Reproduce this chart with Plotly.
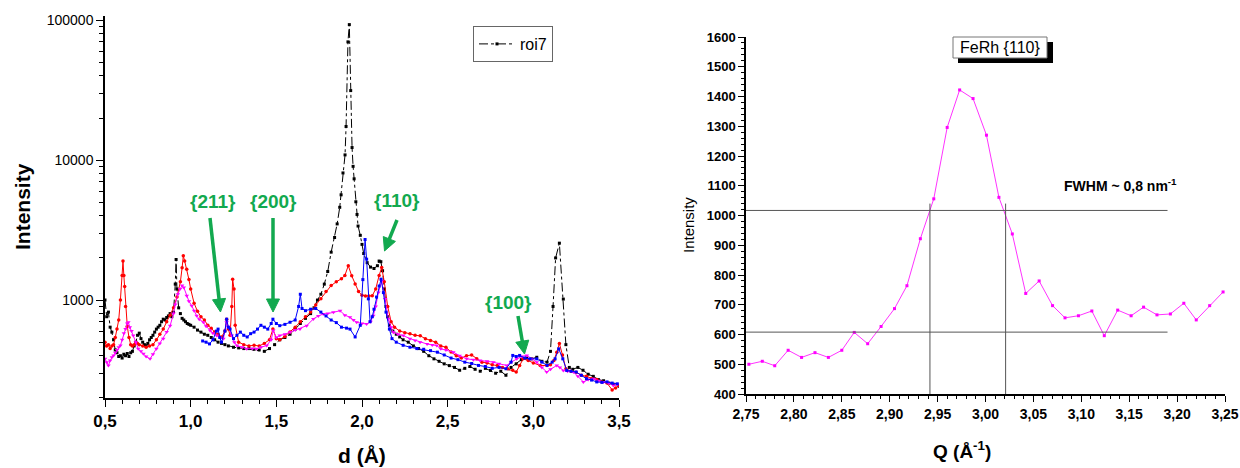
import math
import plotly.graph_objects as go

# ---------------- Left panel data (d in Å, intensity) ----------------
black_d = [0.50,0.51,0.52,0.53,0.54,0.55,0.56,0.57,0.58,0.59,0.60,0.61,0.62,0.63,0.64,0.65,0.66,0.67,0.68,0.69,
           0.70,0.71,0.72,0.73,0.74,0.75,0.76,0.77,0.78,0.79,0.80,0.81,0.82,0.83,0.84,0.85,0.86,0.87,0.88,0.89,
           0.90,0.91,0.915,0.92,0.93,0.94,0.95,0.96,0.97,0.98,0.99,1.00,1.02,1.04,1.06,1.08,1.10,1.12,1.14,1.16,
           1.18,1.20,1.22,1.25,1.28,1.31,1.34,1.37,1.40,1.43,1.46,1.49,1.52,1.55,1.58,1.61,1.64,1.67,1.70,1.72,
           1.74,1.76,1.78,1.80,1.82,1.84,1.855,1.87,1.878,1.889,1.901,1.907,1.918,1.926,1.934,1.942,1.948,1.954,
           1.964,1.971,1.977,1.99,2.00,2.01,2.03,2.05,2.07,2.09,2.10,2.11,2.12,2.13,2.14,2.15,2.16,2.18,2.20,2.22,
           2.24,2.27,2.30,2.33,2.36,2.39,2.42,2.45,2.48,2.51,2.54,2.57,2.60,2.63,2.66,2.69,2.72,2.75,2.78,2.81,
           2.84,2.87,2.90,2.93,2.96,2.99,3.02,3.05,3.08,3.10,3.115,3.13,3.152,3.175,3.19,3.21,3.23,3.26,3.29,3.32,
           3.35,3.38,3.41,3.44,3.47,3.50]
black_i = [1000,760,820,640,590,520,440,420,395,400,385,410,400,415,395,420,430,470,500,560,
           580,530,500,480,470,490,520,540,560,590,620,640,660,700,730,720,750,770,800,760,
           820,1300,1950,1200,880,800,740,720,700,680,670,660,640,610,590,570,560,540,520,500,
           490,480,470,460,455,450,450,445,440,430,450,480,520,540,570,620,680,740,800,880,
           1000,1100,1300,1600,2200,2800,3500,4600,5650,8100,10900,17400,70000,93000,31400,12300,9030,7350,
           5040,4090,3380,2900,2500,2150,1850,1720,1680,1760,1900,1880,1620,1200,900,760,660,600,570,545,
           520,500,470,450,430,400,380,365,350,340,330,315,325,335,320,310,325,314,300,310,
           290,330,350,375,385,380,390,365,360,430,900,2000,2550,1016,480,330,320,330,315,295,
           285,270,265,255,250,242]

red_d = [0.50,0.51,0.52,0.53,0.54,0.55,0.56,0.57,0.58,0.59,0.60,0.605,0.61,0.615,0.62,0.63,0.64,0.65,0.66,0.67,
         0.68,0.69,0.70,0.72,0.74,0.76,0.78,0.80,0.82,0.84,0.86,0.88,0.90,0.92,0.94,0.95,0.957,0.965,0.977,0.99,
         1.00,1.02,1.04,1.06,1.08,1.10,1.12,1.14,1.16,1.18,1.20,1.21,1.22,1.23,1.24,1.245,1.253,1.26,1.28,1.31,
         1.34,1.37,1.40,1.43,1.46,1.48,1.50,1.52,1.55,1.58,1.61,1.64,1.67,1.70,1.73,1.76,1.79,1.82,1.85,1.88,
         1.90,1.92,1.94,1.96,1.98,2.00,2.02,2.04,2.06,2.08,2.10,2.115,2.13,2.15,2.17,2.19,2.22,2.25,2.28,2.31,
         2.34,2.37,2.40,2.43,2.46,2.49,2.52,2.55,2.58,2.61,2.64,2.67,2.70,2.73,2.76,2.79,2.82,2.85,2.88,2.90,
         2.92,2.94,2.97,3.00,3.04,3.08,3.10,3.12,3.137,3.152,3.17,3.19,3.22,3.25,3.28,3.31,3.34,3.37,3.40,3.43,
         3.46,3.48,3.50]
red_i = [500,470,480,450,470,480,540,620,720,1000,1500,1900,1500,1250,900,650,540,480,470,480,
         500,490,480,470,460,470,480,520,570,620,700,780,880,1050,1350,1700,2070,1900,1660,1400,
         1200,950,830,760,720,660,630,590,570,545,600,730,620,560,900,1410,1200,660,500,480,
         470,475,470,490,520,620,530,520,550,590,640,700,760,820,920,1020,1150,1270,1350,1420,
         1500,1760,1490,1300,1150,1080,1070,1070,1075,1200,1500,1710,1350,900,700,640,600,585,575,560,
         555,530,515,500,470,460,425,400,385,400,405,380,360,355,345,340,330,323,315,306,
         340,380,370,355,341,340,345,370,424,490,405,323,310,305,290,285,275,270,260,255,
         228,235,245]

blue_d = [1.07,1.09,1.11,1.13,1.15,1.16,1.17,1.18,1.20,1.21,1.22,1.23,1.25,1.27,1.29,1.31,1.33,1.35,1.37,1.39,
          1.41,1.43,1.45,1.47,1.48,1.50,1.52,1.55,1.58,1.61,1.63,1.64,1.65,1.67,1.70,1.73,1.76,1.79,1.82,1.85,
          1.88,1.91,1.93,1.96,1.99,2.005,2.018,2.027,2.037,2.047,2.06,2.07,2.085,2.10,2.111,2.125,2.14,2.16,2.175,2.20,
          2.24,2.28,2.32,2.36,2.40,2.44,2.48,2.52,2.56,2.60,2.64,2.68,2.72,2.76,2.80,2.84,2.87,2.88,2.90,2.92,
          2.95,2.98,3.02,3.05,3.08,3.11,3.127,3.148,3.172,3.195,3.22,3.25,3.28,3.31,3.34,3.37,3.40,3.43,3.46,3.49]
blue_i = [510,500,486,520,600,620,540,500,600,730,640,620,530,560,590,560,545,575,590,620,
          660,640,620,680,730,680,656,670,694,720,900,1100,870,840,860,870,820,770,720,690,
          640,630,620,545,660,1400,2710,1960,1020,700,760,860,1050,1260,1410,1130,820,620,530,500,
          475,460,450,445,435,424,405,385,375,360,352,341,335,325,330,323,360,402,395,402,
          385,380,380,360,341,360,380,448,380,314,310,306,290,274,268,260,258,260,255,252]

magenta_d = [0.50,0.51,0.52,0.53,0.54,0.55,0.56,0.57,0.58,0.59,0.60,0.61,0.62,0.63,0.636,0.645,0.655,0.665,0.68,0.694,
             0.71,0.724,0.74,0.763,0.78,0.80,0.82,0.84,0.86,0.88,0.90,0.91,0.925,0.938,0.95,0.96,0.977,0.99,1.006,1.02,
             1.035,1.05,1.074,1.09,1.113,1.13,1.152,1.17,1.191,1.21,1.22,1.24,1.255,1.27,1.30,1.327,1.36,1.385,1.41,1.444,
             1.47,1.482,1.50,1.52,1.55,1.58,1.61,1.638,1.677,1.716,1.745,1.774,1.80,1.833,1.872,1.90,1.93,1.95,1.969,2.00,
             2.027,2.05,2.066,2.08,2.096,2.115,2.135,2.154,2.17,2.183,2.21,2.241,2.28,2.31,2.339,2.38,2.41,2.436,2.46,2.49,
             2.533,2.57,2.611,2.65,2.689,2.73,2.767,2.80,2.845,2.87,2.903,2.93,2.962,2.99,3.02,3.05,3.078,3.10,3.137,3.155,
             3.175,3.20,3.234,3.26,3.292,3.32,3.35,3.38,3.409,3.44,3.467,3.49]
magenta_i = [380,360,340,370,390,402,420,440,460,473,520,580,622,680,694,640,600,557,500,448,
             430,413,395,380,410,448,490,528,590,656,800,930,1100,1198,1270,1230,1073,980,911,840,
             773,730,694,650,605,580,557,540,528,694,640,557,500,473,460,448,450,448,460,473,
             520,605,540,557,570,589,610,622,656,732,770,795,800,817,839,780,753,720,694,680,
             675,700,773,900,1134,1373,1016,732,640,589,570,557,530,515,500,485,478,473,448,440,
             424,400,380,375,370,365,360,350,341,360,380,395,402,380,360,330,306,320,341,330,
             314,310,306,285,260,270,274,265,260,255,245,250]

# ---------------- Right panel data (Q in 1/Å, intensity) ----------------
q_vals = [2.753,2.767,2.780,2.794,2.808,2.822,2.836,2.850,2.863,2.877,2.891,2.905,2.918,2.932,2.946,2.960,2.973,
          2.987,3.001,3.014,3.028,3.042,3.056,3.070,3.083,3.097,3.111,3.124,3.138,3.152,3.165,3.179,3.193,3.207,
          3.220,3.234,3.248]
q_int = [500,510,495,547,523,539,523,547,607,569,627,687,764,922,1056,1296,1422,
         1393,1270,1061,938,738,780,697,656,663,679,596,682,663,692,666,669,705,
         649,697,743]

# FWHM guide lines
half_level = 1017
base_level = 608
hline_x = [2.75, 3.19]
fwhm_q = [2.942, 3.021]
vline_y = [400, 1040]

# ticks
left_x_ticks = [0.5, 1.0, 1.5, 2.0, 2.5, 3.0, 3.5]
left_y_ticks = [1000, 10000, 100000]
left_y_ticklabels = ["1000", "10000", "100000"]
left_y_minor = [200,300,400,500,600,700,800,900,2000,3000,4000,5000,6000,7000,8000,9000,
                20000,30000,40000,50000,60000,70000,80000,90000]
right_y_ticks = [400,500,600,700,800,900,1000,1100,1200,1300,1400,1500,1600]

W, H = 1240, 468
def px(x):
    return x / W
def py(y):
    return 1 - y / H

FONT = "Liberation Sans, Arial, sans-serif"
GREEN = "#12a94f"

fig = go.Figure()

fig.add_trace(go.Scatter(x=black_d, y=black_i, name="roi7", mode="lines+markers",
                         line=dict(color="black", width=1, dash="dashdot"),
                         marker=dict(symbol="square", size=3, color="black"),
                         xaxis="x", yaxis="y", showlegend=True))
fig.add_trace(go.Scatter(x=red_d, y=red_i, mode="lines+markers",
                         line=dict(color="#ff0000", width=1),
                         marker=dict(symbol="circle", size=3.5, color="#ff0000"),
                         xaxis="x", yaxis="y", showlegend=False))
fig.add_trace(go.Scatter(x=magenta_d, y=magenta_i, mode="lines+markers",
                         line=dict(color="#ff00ff", width=1),
                         marker=dict(symbol="triangle-down", size=4, color="#ff00ff"),
                         xaxis="x", yaxis="y", showlegend=False))
fig.add_trace(go.Scatter(x=blue_d, y=blue_i, mode="lines+markers",
                         line=dict(color="#0000ff", width=1),
                         marker=dict(symbol="square", size=3, color="#0000ff"),
                         xaxis="x", yaxis="y", showlegend=False))

fig.add_trace(go.Scatter(x=q_vals, y=q_int, mode="lines+markers",
                         line=dict(color="#ff33ff", width=1),
                         marker=dict(symbol="square", size=3, color="#ff00ff"),
                         xaxis="x2", yaxis="y2", showlegend=False))

# guide lines (right panel)
for lvl in (half_level, base_level):
    fig.add_trace(go.Scatter(x=hline_x, y=[lvl, lvl], mode="lines",
                             line=dict(color="#555555", width=1),
                             xaxis="x2", yaxis="y2", showlegend=False, hoverinfo="skip"))
for q in fwhm_q:
    fig.add_trace(go.Scatter(x=[q, q], y=vline_y, mode="lines",
                             line=dict(color="#555555", width=1),
                             xaxis="x2", yaxis="y2", showlegend=False, hoverinfo="skip"))

axis_common = dict(showline=True, linecolor="black", linewidth=1.5, ticks="outside",
                   tickcolor="black", tickwidth=1.2, showgrid=False, zeroline=False, mirror=False,
                   automargin=False)

fig.update_layout(
    template="none",
    width=W, height=H, margin=dict(l=0, r=0, t=0, b=0, autoexpand=False),
    paper_bgcolor="white", plot_bgcolor="white",
    separators=",.",
    font=dict(family=FONT, color="black"),
    xaxis=dict(domain=[px(105), px(619)], range=[0.5, 3.5], tickvals=left_x_ticks,
               tickformat=".1f", ticklen=7,
               minor=dict(dtick=0.1, tick0=0.5, ticks="outside", ticklen=4, tickcolor="black"),
               tickfont=dict(size=17, weight="bold", family=FONT), anchor="y", **axis_common),
    yaxis=dict(domain=[1 - 398 / H, 1 - 16 / H], type="log", range=[2.30, 5.03],
               tickmode="array", tickvals=left_y_ticks, ticktext=left_y_ticklabels, ticklen=7,
               minor=dict(tickmode="array", tickvals=left_y_minor, ticks="outside", ticklen=4,
                          tickcolor="black"),
               tickfont=dict(size=14, family=FONT), anchor="x", **axis_common),
    xaxis2=dict(domain=[px(746), px(1225)], range=[2.75, 3.25], dtick=0.05, tick0=2.75,
                tickformat=".2f", ticklen=6,
                minor=dict(dtick=0.01, tick0=2.75, ticks="outside", ticklen=3, tickcolor="black"),
                tickfont=dict(size=14, weight="bold", family=FONT), anchor="y2", **axis_common),
    yaxis2=dict(domain=[1 - 394 / H, 1 - 37 / H], range=[400, 1600], tickmode="array",
                tickvals=right_y_ticks, ticktext=[str(v) for v in right_y_ticks], ticklen=6,
                minor=dict(dtick=20, tick0=400, ticks="outside", ticklen=3, tickcolor="black"),
                tickfont=dict(size=13, weight="bold", family=FONT), anchor="x2", **axis_common),
    legend=dict(x=px(473), y=py(26), xanchor="left", yanchor="top",
                bordercolor="#666666", borderwidth=1, bgcolor="white",
                font=dict(size=16, family=FONT), itemwidth=36, tracegroupgap=0),
)

annotations = [
    dict(text="<b>Intensity</b>", x=px(22), y=py(207), textangle=-90, font=dict(size=21)),
    dict(text="<b>d (Å)</b>", x=px(362), y=py(455), font=dict(size=21)),
    dict(text="Intensity", x=px(688), y=py(225), textangle=-90, font=dict(size=15)),
    dict(text="<b>Q (Å<sup>-1</sup>)</b>", x=px(962), y=py(450), font=dict(size=19)),
    dict(text="<b>FWHM ~ 0,8 nm<sup>-1</sup></b>", x=px(1062), y=py(185), xanchor="left",
         font=dict(size=14)),
    dict(text="FeRh {110}", x=px(1000), y=py(47.5), font=dict(size=16)),
    dict(text="<b>{211}</b>", x=px(213), y=py(201), font=dict(size=19, color=GREEN)),
    dict(text="<b>{200}</b>", x=px(273), y=py(201), font=dict(size=19, color=GREEN)),
    dict(text="<b>{110}</b>", x=px(397), y=py(200), font=dict(size=19, color=GREEN)),
    dict(text="<b>{100}</b>", x=px(508), y=py(302), font=dict(size=19, color=GREEN)),
]
for a in annotations:
    a.update(xref="paper", yref="paper", showarrow=False)
    a.setdefault("xanchor", "center")
    a["yanchor"] = "middle"
fig.update_layout(annotations=annotations)

# green arrows drawn as shapes: (tail_x, tail_y, tip_x, tip_y) in pixels
arrows = [(210, 218, 220.5, 312), (273, 218, 273, 312), (397, 220, 384.5, 251), (518, 316, 524.5, 354)]
HEAD_L, HEAD_W = 13, 6.5
for tx, ty, hx, hy in arrows:
    dx, dy = hx - tx, hy - ty
    n = math.hypot(dx, dy)
    ux, uy = dx / n, dy / n
    bx, by = hx - ux * HEAD_L, hy - uy * HEAD_L
    nx, ny = -uy, ux
    fig.add_shape(type="line", xref="paper", yref="paper", x0=px(tx), y0=py(ty), x1=px(bx + ux), y1=py(by + uy),
                  line=dict(color=GREEN, width=3.5), layer="above")
    p1 = (bx + nx * HEAD_W, by + ny * HEAD_W)
    p2 = (bx - nx * HEAD_W, by - ny * HEAD_W)
    path = "M {:.4f} {:.4f} L {:.4f} {:.4f} L {:.4f} {:.4f} Z".format(
        px(hx), py(hy), px(p1[0]), py(p1[1]), px(p2[0]), py(p2[1]))
    fig.add_shape(type="path", xref="paper", yref="paper", path=path,
                  fillcolor=GREEN, line=dict(color=GREEN, width=1), layer="above")

# FeRh box with drop shadow
fig.add_shape(type="rect", xref="paper", yref="paper", x0=px(958), x1=px(1053), y0=py(63), y1=py(42),
              fillcolor="black", line=dict(width=0), layer="above")
fig.add_shape(type="rect", xref="paper", yref="paper", x0=px(953), x1=px(1047), y0=py(58), y1=py(37),
              fillcolor="white", line=dict(color="#777777", width=1), layer="above")

fig.write_html("out.html")
